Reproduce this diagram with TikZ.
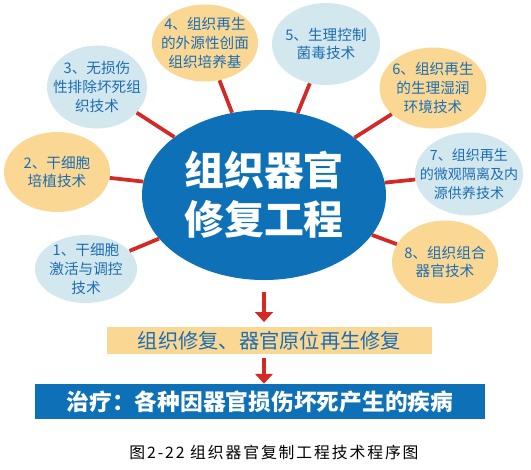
\documentclass[tikz,border=0pt]{standalone}
\usepackage{fontspec}
\setmainfont{Noto Sans CJK SC}
\newfontfamily\capfont[LetterSpace=12]{Noto Sans CJK SC}
\usetikzlibrary{shapes.geometric,arrows.meta}
\definecolor{coreblue}{HTML}{0E71B8}
\definecolor{paleblue}{HTML}{D3E8EE}
\definecolor{paleorange}{HTML}{FAD894}
\definecolor{linkred}{HTML}{D42A26}
\definecolor{textblue}{HTML}{1D6DB3}
\tikzset{
  bubble/.style={ellipse, inner sep=0pt, draw=none},
  bluebub/.style={bubble, fill=paleblue},
  orangebub/.style={bubble, fill=paleorange},
  bubtext/.style={text=textblue, font=\fontsize{12.5}{16}\selectfont, align=center, inner sep=0pt},
  link/.style={linkred, line width=3.2pt},
  downarrow/.style={linkred, line width=4pt, -{Triangle[width=15pt,length=8.5pt]}},
}

\begin{document}
\begin{tikzpicture}[x=0.03cm, y=-0.03cm]
		%%%%% START %%%%%
		\useasboundingbox (0,0) rectangle (531,469);
		
		\node[ellipse, fill=coreblue, inner sep=0pt, minimum width=7.32cm, minimum height=5.1cm] (core) at (264,195) {};
		\node[text=white, font=\fontsize{34}{42}\selectfont\bfseries, align=center] (title) at (core) {组织器官\\修复工程};
		
		\node[bluebub, minimum width=3.06cm, minimum height=2.04cm] (s1) at (86,269) {};
		\node[bubtext] (s1t) at (s1) {1、干细胞\\激活与调控\\技术};
		
		\node[orangebub, minimum width=3.18cm, minimum height=2.4cm] (s2) at (57,172) {};
		\node[bubtext] (s2t) at (s2) {2、干细胞\\培植技术};
		
		\node[bluebub, minimum width=3.0cm, minimum height=2.49cm] (s3) at (97,87) {};
		\node[bubtext] (s3t) at (s3) {3、无损伤\\性排除坏死组\\织技术};
		
		\node[orangebub, minimum width=3.18cm, minimum height=2.31cm] (s4) at (205,43) {};
		\node[bubtext] (s4t) at (s4) {4、组织再生\\的外源性创面\\组织培养基};
		
		\node[bluebub, minimum width=3.24cm, minimum height=2.46cm] (s5) at (326,44) {};
		\node[bubtext] (s5t) at (s5) {5、生理控制\\菌毒技术};
		
		\node[orangebub, minimum width=3.21cm, minimum height=2.43cm] (s6) at (433,88) {};
		\node[bubtext] (s6t) at (s6) {6、组织再生\\的生理湿润\\环境技术};
		
		\node[bluebub, minimum width=3.24cm, minimum height=2.49cm] (s7) at (469,174) {};
		\node[bubtext, font=\fontsize{12}{16}\selectfont] (s7t) at (s7) {7、组织再生\\的微观隔离及内\\源供养技术};
		
		\node[orangebub, minimum width=3.18cm, minimum height=2.49cm] (s8) at (445,262) {};
		\node[bubtext] (s8t) at (s8) {8、组织组合\\器官技术};
		
		\foreach \s in {s1,s2,s3,s4,s5,s6,s7,s8}
			\draw[link] (core) -- (\s);
		
		\node[fill=paleorange, inner sep=0pt, minimum width=9.75cm, minimum height=0.81cm, text=textblue, font=\fontsize{17.3}{20}\selectfont] (fix) at (269.5,340.5) {组织修复、器官原位再生修复};
		\node[fill=coreblue, inner sep=0pt, minimum width=13.5cm, minimum height=1.05cm, text=white, font=\fontsize{19.4}{22}\selectfont\bfseries] (cure) at (260,401.5) {治疗：各种因器官损伤坏死产生的疾病};
		
		\draw[downarrow, shorten <=10pt, shorten >=4pt] (core.south) -- (core.south |- fix.north);
		\draw[downarrow, shorten <=3pt] (core.south |- fix.south) -- (core.south |- cure.north);
		
		\node[font=\capfont\fontsize{13.5}{16}\selectfont] (caption) at (274,452) {图2-22 组织器官复制工程技术程序图};
		%%%%% END %%%%%
\end{tikzpicture}
\end{document}
